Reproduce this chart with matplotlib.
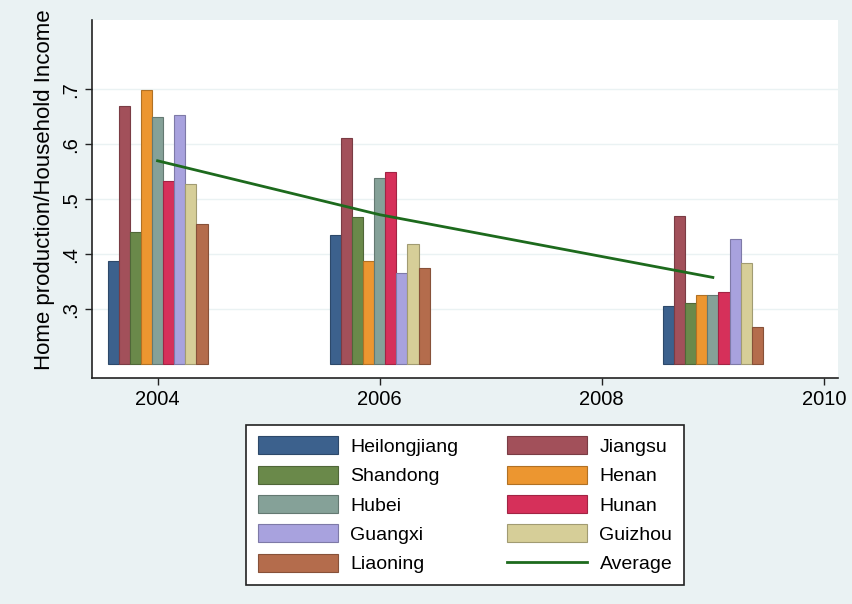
import matplotlib.pyplot as plt
import matplotlib.colors as mcolors
import numpy as np

plt.rcParams["font.family"] = ["Liberation Sans", "DejaVu Sans"]

years = [2004, 2006, 2009]
provinces = ["Heilongjiang", "Jiangsu", "Shandong", "Henan", "Hubei",
             "Hunan", "Guangxi", "Guizhou", "Liaoning"]
ratio = {
    "Heilongjiang": [0.387, 0.435, 0.306],
    "Jiangsu":      [0.669, 0.611, 0.469],
    "Shandong":     [0.440, 0.467, 0.311],
    "Henan":        [0.699, 0.388, 0.326],
    "Hubei":        [0.649, 0.539, 0.326],
    "Hunan":        [0.534, 0.549, 0.331],
    "Guangxi":      [0.654, 0.366, 0.427],
    "Guizhou":      [0.528, 0.419, 0.385],
    "Liaoning":     [0.456, 0.375, 0.267],
}
average = [0.570, 0.472, 0.358]
colors = ["#3c618d", "#a2505a", "#6a894a", "#ec9630", "#85a198",
          "#d6305a", "#a8a2de", "#d6ce98", "#b46c4c"]
line_color = "#1d6a1d"
bg = "#eaf2f3"

fig = plt.figure(figsize=(8.52, 6.04), dpi=100, facecolor=bg)
ax = fig.add_axes([0.108, 0.374, 0.876, 0.593])
ax.set_facecolor("white")

base = 0.2
width = 0.1
handles = []
for i, (name, c) in enumerate(zip(provinces, colors)):
    x = np.array(years) + (i - 4) * width
    h = [v - base for v in ratio[name]]
    edge = tuple(np.array(mcolors.to_rgb(c)) * 0.75)
    b = ax.bar(x, h, width=width, bottom=base, color=c, edgecolor=edge,
               linewidth=0.8, label=name, zorder=2)
    handles.append(b)

avg_line, = ax.plot(years, average, color=line_color, lw=2, label="Average", zorder=3)

ax.set_xlim(2003.41, 2010.13)
ax.set_ylim(0.175, 0.826)
ax.set_xticks([2004, 2006, 2008, 2010])
ax.set_yticks([0.3, 0.4, 0.5, 0.6, 0.7])
ax.set_yticklabels([".3", ".4", ".5", ".6", ".7"], rotation=90, va="center")
ax.tick_params(labelsize=14.5, color="#222222", length=5, width=1)
ax.grid(axis="y", color=bg, lw=1, zorder=0)
for s in ["top", "right"]:
    ax.spines[s].set_visible(False)
for s in ["left", "bottom"]:
    ax.spines[s].set_color("#222222")
    ax.spines[s].set_linewidth(1.2)
ax.set_ylabel("Home production/Household Income", fontsize=16)
ax.yaxis.set_label_coords(-0.050, 0.525)

# legend is filled column-wise, so order the entries to read row by row
order = [handles[0], handles[2], handles[4], handles[6], handles[8],
         handles[1], handles[3], handles[5], handles[7], avg_line]
leg = fig.legend(handles=order, labels=[h.get_label() for h in order],
                 loc="upper center", bbox_to_anchor=(0.546, 0.297), ncol=2,
                 fontsize=14, handlelength=4.1, handleheight=1.05,
                 labelspacing=0.5, columnspacing=2.5, handletextpad=0.65,
                 fancybox=False, edgecolor="#222222", framealpha=1,
                 borderpad=0.6, borderaxespad=0)
leg.get_frame().set_linewidth(1.2)

fig.savefig("out.png", dpi=100, facecolor=bg)
